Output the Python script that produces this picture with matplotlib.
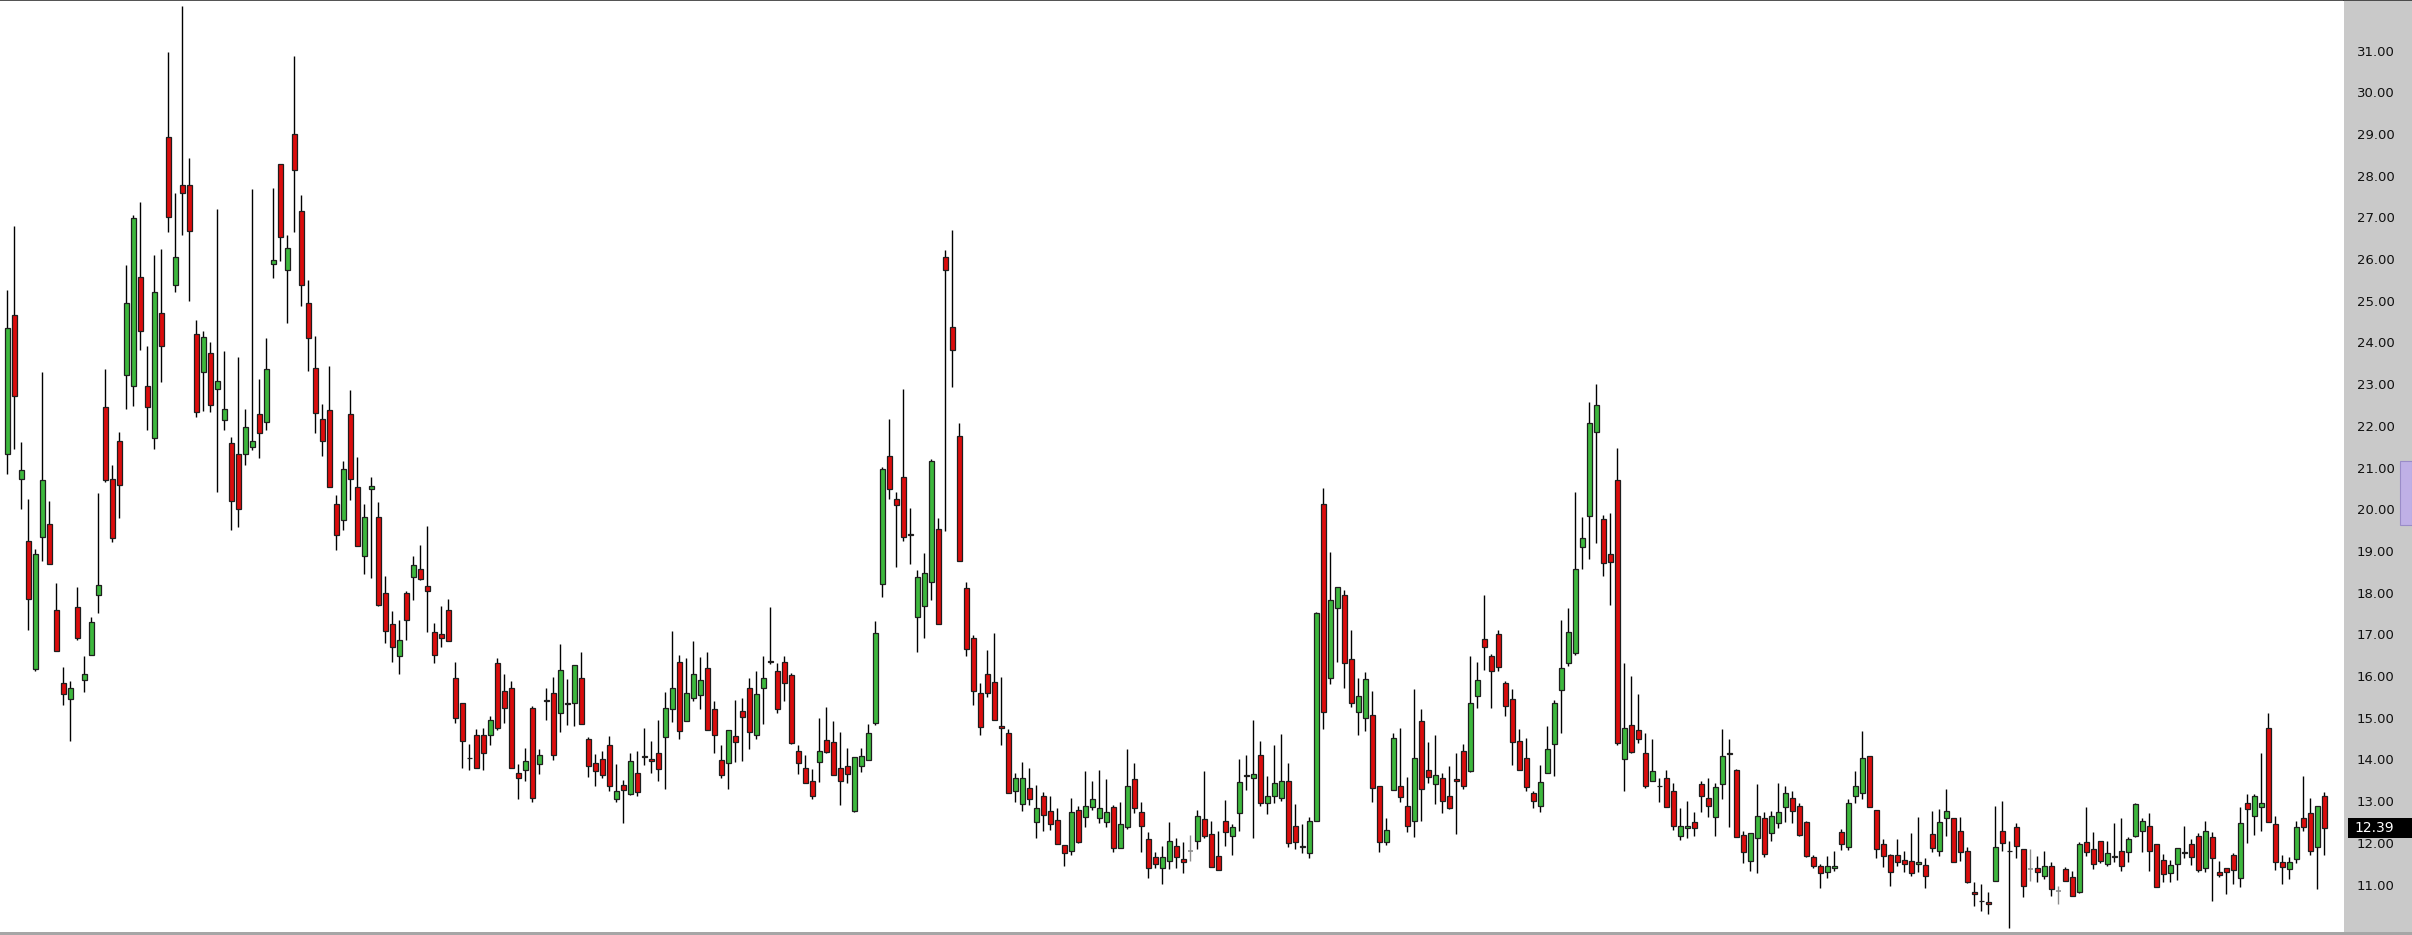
import matplotlib
matplotlib.use("Agg")
import matplotlib.pyplot as plt
from matplotlib.patches import Rectangle
import numpy as np

# OHLC, one entry per session (oldest first)
opens = [
    21.37, 24.70, 20.77, 19.27, 16.20, 19.37, 19.67, 17.63, 15.88, 15.48,
    17.68, 15.94, 16.54, 17.99, 22.49, 20.77, 21.68, 23.25, 22.98, 25.60,
    22.98, 21.74, 24.75, 28.97, 25.41, 27.80, 27.80, 24.23, 23.33, 23.77,
    22.91, 22.18, 21.62, 21.36, 21.36, 21.52, 22.32, 22.13, 25.92, 28.31,
    25.77, 29.03, 27.18, 24.97, 23.43, 22.20, 22.41, 20.16, 19.78, 22.32,
    20.56, 18.91, 20.52, 19.86, 18.02, 17.28, 16.51, 18.03, 18.41, 18.60,
    18.19, 17.10, 17.04, 17.63, 15.98, 15.38, 14.08, 14.61, 14.61, 14.61,
    16.34, 15.68, 15.76, 13.72, 13.77, 15.26, 13.92, 15.46, 15.64, 15.16,
    15.38, 15.38, 16.00, 14.52, 13.94, 14.04, 14.38, 13.08, 13.42, 13.21,
    13.72, 14.12, 14.04, 14.18, 14.57, 15.24, 16.36, 14.95, 15.50, 15.57,
    16.22, 15.24, 14.01, 13.94, 14.59, 15.19, 15.74, 14.61, 15.74, 16.39,
    16.15, 16.36, 16.05, 14.23, 13.82, 13.53, 13.97, 14.49, 14.45, 13.82,
    13.87, 12.81, 13.87, 14.03, 14.91, 18.25, 21.30, 20.28, 20.82, 19.44,
    17.44, 17.71, 18.28, 19.55, 26.09, 24.40, 21.78, 18.15, 16.95, 15.62,
    16.08, 15.90, 14.83, 14.66, 13.29, 12.96, 13.34, 12.53, 13.15, 12.79,
    12.58, 11.98, 11.83, 12.83, 12.66, 12.90, 12.64, 12.54, 12.89, 11.92,
    12.42, 13.56, 12.77, 12.12, 11.69, 11.44, 11.59, 11.97, 11.64, 11.85,
    12.07, 12.61, 12.24, 11.72, 12.57, 12.19, 12.74, 13.65, 13.58, 14.13,
    12.98, 13.17, 13.10, 13.51, 12.45, 11.93, 11.78, 12.55, 20.16, 16.00,
    17.66, 17.99, 16.44, 15.17, 15.02, 15.09, 13.41, 12.05, 13.30, 13.39,
    12.93, 12.57, 14.95, 13.77, 13.44, 13.58, 13.15, 13.56, 14.23, 13.75,
    15.55, 16.92, 16.51, 17.04, 15.86, 15.48, 14.47, 14.06, 13.22, 12.93,
    13.70, 14.40, 15.69, 16.34, 16.58, 19.12, 19.87, 21.88, 19.79, 18.95,
    20.73, 14.04, 14.85, 14.73, 14.18, 13.53, 13.40, 13.58, 13.29, 12.20,
    12.38, 12.54, 13.44, 13.10, 12.65, 13.44, 14.18, 13.77, 12.22, 11.61,
    12.14, 12.62, 12.26, 12.50, 12.90, 13.10, 12.91, 12.53, 11.69, 11.48,
    11.34, 11.42, 12.29, 11.93, 13.17, 13.22, 14.11, 12.82, 12.00, 11.74,
    11.74, 11.62, 11.59, 11.52, 11.50, 12.24, 11.83, 12.62, 12.62, 12.33,
    11.85, 10.85, 10.65, 10.61, 11.13, 12.33, 11.85, 12.41, 11.88, 11.40,
    11.42, 11.23, 11.47, 10.89, 11.40, 11.21, 10.86, 12.05, 11.88, 12.09,
    11.52, 11.69, 11.85, 11.81, 12.21, 12.33, 12.45, 12.00, 11.62, 11.30,
    11.52, 11.81, 12.00, 12.19, 11.42, 12.17, 11.33, 11.42, 11.74, 11.18,
    12.98, 12.69, 12.89, 14.80, 12.48, 11.57, 11.40, 11.64, 12.62, 12.74,
    11.93, 13.15,
]
highs = [
    25.30, 26.83, 21.65, 20.27, 19.08, 23.33, 20.23, 18.26, 16.26, 15.91,
    18.17, 16.52, 17.45, 20.42, 23.39, 21.09, 21.89, 25.89, 27.09, 27.40,
    23.95, 26.12, 26.28, 30.99, 27.62, 32.11, 28.45, 24.58, 24.32, 24.04,
    27.23, 23.83, 21.77, 23.69, 22.45, 27.72, 23.16, 24.13, 27.74, 28.32,
    26.61, 30.90, 27.58, 25.53, 24.19, 22.56, 23.48, 20.38, 21.20, 22.89,
    21.29, 20.16, 20.82, 20.21, 18.44, 17.59, 17.37, 18.08, 18.92, 19.17,
    19.64, 17.30, 17.71, 17.88, 16.37, 15.38, 14.40, 14.76, 14.79, 15.07,
    16.47, 16.09, 15.92, 13.92, 14.31, 15.31, 14.28, 15.76, 16.01, 16.81,
    15.96, 16.29, 16.62, 14.57, 14.17, 14.24, 14.60, 13.92, 13.54, 14.19,
    14.24, 14.80, 14.47, 14.98, 15.65, 17.12, 16.54, 16.47, 16.88, 16.48,
    16.60, 15.43, 14.37, 14.73, 15.46, 15.51, 16.00, 16.16, 16.51, 17.68,
    16.34, 16.51, 16.10, 14.37, 14.13, 13.80, 15.02, 15.30, 14.95, 14.69,
    14.30, 14.09, 14.30, 14.89, 17.36, 21.05, 22.19, 20.46, 22.92, 20.07,
    18.57, 18.99, 21.25, 19.82, 26.24, 26.73, 22.10, 18.30, 17.01, 15.88,
    16.66, 17.06, 16.02, 14.77, 13.71, 13.97, 13.82, 13.42, 13.25, 13.15,
    12.86, 11.99, 13.11, 12.92, 13.75, 13.53, 13.77, 13.56, 12.94, 13.01,
    14.28, 13.95, 13.01, 12.29, 11.81, 11.96, 12.53, 12.14, 12.05, 12.22,
    12.83, 13.76, 12.57, 12.31, 13.06, 12.48, 14.04, 14.13, 14.98, 14.47,
    13.63, 14.38, 14.64, 13.95, 12.97, 12.49, 12.65, 17.56, 20.54, 19.01,
    18.16, 18.10, 17.13, 15.98, 16.12, 15.68, 13.41, 12.62, 14.66, 14.78,
    13.61, 15.72, 15.24, 14.45, 14.61, 13.70, 13.87, 14.18, 14.40, 16.51,
    16.36, 17.97, 16.56, 17.13, 15.91, 15.72, 14.76, 14.56, 13.29, 13.89,
    14.83, 15.45, 17.37, 17.66, 20.46, 19.84, 22.60, 23.04, 19.89, 19.94,
    21.50, 16.34, 16.03, 15.60, 14.68, 14.52, 13.58, 13.77, 13.46, 12.86,
    13.05, 12.77, 13.53, 13.58, 13.46, 14.76, 14.52, 13.80, 12.33, 12.26,
    13.44, 12.77, 12.81, 13.46, 13.41, 13.27, 12.98, 12.55, 11.75, 11.52,
    11.73, 11.85, 12.36, 13.08, 13.75, 14.71, 14.11, 12.82, 12.12, 11.76,
    12.12, 11.83, 12.26, 12.65, 11.66, 12.79, 12.84, 13.32, 12.62, 12.65,
    11.93, 11.09, 11.04, 10.85, 12.93, 13.03, 12.09, 12.50, 11.88, 11.88,
    11.71, 11.85, 11.57, 10.99, 11.45, 11.37, 12.05, 12.89, 12.29, 12.09,
    12.09, 12.50, 12.62, 12.17, 12.98, 12.62, 12.74, 12.00, 11.76, 11.62,
    11.90, 12.45, 12.12, 12.26, 12.57, 12.29, 11.59, 11.42, 11.78, 12.89,
    13.20, 13.20, 14.18, 15.14, 12.69, 11.74, 11.69, 12.57, 13.63, 13.10,
    12.93, 13.25,
]
lows = [
    20.89, 21.49, 20.04, 17.13, 16.15, 18.80, 18.72, 16.63, 15.35, 14.48,
    16.90, 15.66, 16.54, 17.54, 20.70, 19.26, 19.82, 22.44, 22.51, 23.85,
    21.94, 21.49, 23.09, 26.68, 25.24, 26.60, 25.02, 22.25, 22.40, 22.37,
    20.45, 21.93, 19.54, 19.62, 21.09, 21.46, 21.26, 21.93, 25.58, 26.00,
    24.50, 26.68, 24.92, 23.34, 21.86, 21.32, 20.56, 19.05, 19.54, 20.26,
    19.15, 18.48, 18.39, 17.71, 16.82, 16.36, 16.09, 16.90, 17.86, 18.33,
    17.08, 16.34, 16.72, 16.87, 14.92, 13.84, 13.77, 13.82, 13.77, 14.37,
    14.73, 14.92, 13.82, 13.09, 13.53, 13.02, 13.69, 14.97, 14.03, 14.70,
    14.86, 14.84, 14.88, 13.62, 13.41, 13.60, 13.27, 13.02, 12.52, 13.18,
    13.17, 13.89, 13.70, 13.53, 13.33, 14.94, 14.52, 14.95, 15.43, 15.25,
    14.73, 14.20, 13.58, 13.32, 13.98, 14.00, 14.29, 14.52, 14.89, 16.32,
    15.14, 15.43, 14.40, 13.68, 13.46, 13.08, 13.49, 14.20, 13.65, 12.94,
    13.46, 12.77, 13.73, 14.03, 14.87, 17.92, 20.28, 18.66, 19.27, 18.73,
    16.62, 16.95, 17.85, 17.28, 19.51, 22.96, 18.79, 16.51, 15.33, 14.63,
    15.53, 14.99, 14.37, 13.23, 13.02, 12.80, 12.95, 12.16, 12.32, 12.35,
    12.00, 11.47, 11.75, 12.02, 12.42, 12.83, 12.52, 12.41, 11.81, 11.90,
    12.37, 12.75, 11.82, 11.19, 11.44, 11.06, 11.40, 11.42, 11.32, 11.61,
    11.89, 12.16, 11.45, 11.38, 11.97, 11.75, 12.33, 13.31, 12.16, 12.93,
    12.73, 13.00, 13.03, 11.93, 11.88, 11.80, 11.68, 12.55, 14.77, 15.84,
    16.36, 15.75, 15.29, 14.63, 14.72, 13.01, 11.81, 11.98, 13.30, 13.01,
    12.29, 12.17, 12.57, 13.46, 12.96, 12.74, 12.84, 12.24, 13.32, 13.73,
    15.28, 16.17, 15.28, 16.15, 15.07, 13.89, 13.77, 13.29, 12.86, 12.77,
    13.70, 13.63, 14.68, 16.27, 16.53, 18.59, 18.85, 19.22, 18.43, 17.73,
    14.37, 13.29, 14.18, 14.42, 13.34, 13.53, 13.01, 12.89, 12.34, 12.10,
    12.15, 12.20, 12.77, 12.65, 12.20, 13.08, 12.42, 12.17, 11.56, 11.37,
    11.32, 11.70, 12.09, 12.38, 12.53, 12.50, 12.19, 11.70, 11.42, 10.96,
    11.18, 11.37, 11.87, 11.87, 12.98, 13.08, 12.89, 11.66, 11.45, 11.01,
    11.49, 11.34, 11.25, 11.34, 10.96, 11.82, 11.73, 12.21, 11.57, 11.61,
    11.08, 10.53, 10.41, 10.33, 11.13, 11.83, 10.00, 11.66, 10.74, 11.11,
    11.09, 11.16, 10.77, 10.58, 11.11, 10.77, 10.84, 11.73, 11.40, 11.54,
    11.47, 11.57, 11.37, 11.57, 12.17, 11.81, 11.35, 10.97, 11.09, 11.09,
    11.14, 11.66, 11.50, 11.33, 11.33, 10.63, 11.21, 10.82, 11.06, 10.97,
    12.02, 12.22, 12.31, 12.53, 11.38, 11.06, 11.16, 11.54, 12.31, 11.74,
    10.94, 11.74,
]
closes = [
    24.39, 22.74, 20.97, 17.89, 18.96, 20.73, 18.72, 16.63, 15.60, 15.76,
    16.94, 16.09, 17.32, 18.23, 20.73, 19.35, 20.61, 24.99, 27.02, 24.32,
    22.48, 25.24, 23.96, 27.04, 26.08, 27.62, 26.70, 22.37, 24.16, 22.53,
    23.11, 22.44, 20.23, 20.03, 22.00, 21.67, 21.86, 23.40, 26.01, 26.57,
    26.31, 28.16, 25.42, 24.13, 22.34, 21.67, 20.56, 19.42, 21.00, 20.75,
    19.15, 19.84, 20.60, 17.75, 17.12, 16.74, 16.90, 17.37, 18.69, 18.36,
    18.07, 16.55, 16.95, 16.87, 15.03, 14.47, 14.06, 13.82, 14.20, 14.97,
    14.78, 15.26, 13.84, 13.58, 13.99, 13.12, 14.15, 15.44, 14.13, 16.19,
    15.36, 16.29, 14.88, 13.87, 13.75, 13.65, 13.39, 13.27, 13.31, 13.99,
    13.25, 14.09, 13.99, 13.80, 15.26, 15.74, 14.71, 15.62, 16.08, 15.93,
    14.75, 14.61, 13.65, 14.73, 14.45, 15.06, 14.70, 15.60, 15.98, 16.37,
    15.24, 15.86, 14.42, 13.94, 13.46, 13.15, 14.23, 14.22, 13.65, 13.51,
    13.68, 14.09, 14.11, 14.66, 17.06, 21.00, 20.51, 20.14, 19.38, 19.41,
    18.40, 18.50, 21.19, 17.28, 25.77, 23.86, 18.79, 16.68, 15.68, 14.81,
    15.62, 14.99, 14.78, 13.23, 13.58, 13.58, 13.09, 12.86, 12.70, 12.48,
    12.00, 11.80, 12.77, 12.05, 12.91, 13.08, 12.86, 12.77, 11.90, 12.48,
    13.41, 12.88, 12.45, 11.42, 11.53, 11.69, 12.09, 11.70, 11.58, 11.85,
    12.67, 12.21, 11.46, 11.38, 12.30, 12.41, 13.49, 13.63, 13.68, 12.98,
    13.15, 13.46, 13.51, 12.02, 12.05, 11.97, 12.55, 17.54, 15.18, 17.87,
    18.16, 16.34, 15.40, 15.55, 15.96, 13.34, 12.05, 12.34, 14.54, 13.13,
    12.43, 14.06, 13.32, 13.61, 13.65, 13.03, 12.86, 13.51, 13.41, 15.38,
    15.93, 16.72, 16.15, 16.24, 15.31, 14.45, 13.77, 13.37, 13.05, 13.49,
    14.28, 15.38, 16.22, 17.08, 18.59, 19.34, 22.10, 22.53, 18.74, 18.76,
    14.42, 14.78, 14.21, 14.52, 13.41, 13.75, 13.39, 12.89, 12.45, 12.45,
    12.45, 12.38, 13.17, 12.93, 13.37, 14.11, 14.16, 12.17, 11.82, 12.26,
    12.67, 11.77, 12.67, 12.77, 13.22, 12.81, 12.23, 11.73, 11.49, 11.30,
    11.48, 11.48, 12.01, 12.98, 13.41, 14.06, 12.89, 11.88, 11.71, 11.34,
    11.58, 11.52, 11.30, 11.57, 11.25, 11.90, 12.53, 12.81, 11.57, 11.81,
    11.10, 10.82, 10.63, 10.58, 11.93, 12.02, 11.83, 11.97, 11.01, 11.40,
    11.33, 11.49, 10.92, 10.89, 11.11, 10.77, 12.00, 11.81, 11.52, 11.61,
    11.78, 11.73, 11.49, 12.12, 12.96, 12.57, 11.85, 10.98, 11.28, 11.50,
    11.90, 11.78, 11.69, 11.38, 12.33, 11.66, 11.26, 11.33, 11.38, 12.50,
    12.84, 13.15, 12.98, 12.53, 11.57, 11.45, 11.57, 12.41, 12.41, 11.83,
    12.93, 12.39,
]

price_ticks = list(range(11, 32))
last_price = 12.39

W, H = 2412, 935
fig = plt.figure(figsize=(W / 100, H / 100), dpi=100)
fig.patch.set_facecolor("#a6a6a6")

panel_x = 2344
ylo, yhi = 9.897, 32.247
ax = fig.add_axes([0, 3 / H, panel_x / W, 932 / H])
ax.set_facecolor("white")
ax.set_xlim(-1.04, 333.8)
ax.set_ylim(ylo, yhi)
for side in ["left", "right", "bottom"]:
    ax.spines[side].set_visible(False)
ax.spines["top"].set_color("#333333")
ax.spines["top"].set_linewidth(1.2)
ax.set_xticks([])
ax.set_yticks([])

o = np.array(opens)
h = np.array(highs)
l = np.array(lows)
c = np.array(closes)
x = np.arange(len(o))

up = c > o
down = c < o
flat = c == o

red = "#dc0c0c"
green = "#3db83d"
edge = "#1e1e1e"

ax.vlines(x[~flat], l[~flat], h[~flat], color="black", linewidth=1.0, zorder=1)
ax.vlines(x[flat], l[flat], h[flat], color="#8c8c8c", linewidth=1.0, zorder=1)

bw = 0.64
for mask, col in [(up, green), (down, red)]:
    bottoms = np.minimum(o[mask], c[mask])
    heights = np.maximum(np.abs(c[mask] - o[mask]), 0.02)
    ax.bar(x[mask], heights, bw, bottom=bottoms, color=col,
           edgecolor=edge, linewidth=0.9, zorder=2)
ax.hlines(o[flat], x[flat] - bw / 2, x[flat] + bw / 2, color="#8c8c8c",
          linewidth=1.2, zorder=2)

# right price scale
axp = fig.add_axes([panel_x / W, 3 / H, (W - panel_x) / W, 932 / H])
axp.set_facecolor("#c9c9c9")
axp.set_xlim(0, 1)
axp.set_ylim(ylo, yhi)
axp.set_xticks([])
axp.set_yticks([])
for side in ["left", "right", "bottom"]:
    axp.spines[side].set_visible(False)
axp.spines["top"].set_color("#333333")
axp.spines["top"].set_linewidth(1.2)

for v in price_ticks:
    axp.text(0.19, v, f"{v:.2f}", ha="left", va="center",
             fontsize=9.5, color="#111111", family="DejaVu Sans")

axp.add_patch(Rectangle((0.06, last_price - 0.24), 0.94, 0.48,
                        facecolor="black", edgecolor="none", zorder=3))
axp.text(0.15, last_price, f"{last_price:.2f}", ha="left", va="center",
         fontsize=10, color="white", family="DejaVu Sans", zorder=4)

# scroll handle on the scale
axp.add_patch(Rectangle((0.82, 19.65), 0.18, 1.55, facecolor="#bfb0e6",
                        edgecolor="#9a8cc8", linewidth=0.8, zorder=3))

fig.savefig("out.png", dpi=100, facecolor=fig.get_facecolor())
